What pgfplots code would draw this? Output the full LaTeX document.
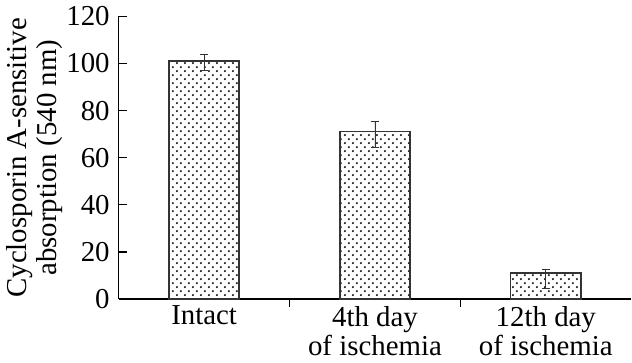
\documentclass[border=0pt]{standalone}
\usepackage{pgfplots}
\pgfplotsset{compat=1.18}
\usepackage{fontspec}
\setmainfont{Liberation Serif}
\usetikzlibrary{patterns}
\pgfdeclarepatternformonly{sparsedots}{\pgfqpoint{0pt}{0pt}}{\pgfqpoint{4.2pt}{4.2pt}}{\pgfqpoint{4.2pt}{4.2pt}}{%
  \pgfpathcircle{\pgfqpoint{1.05pt}{1.05pt}}{0.62pt}%
  \pgfpathcircle{\pgfqpoint{3.15pt}{3.15pt}}{0.62pt}%
  \pgfusepath{fill}%
}
\begin{document}
\begin{tikzpicture}[font=\fontsize{14.5}{15}\selectfont]
\begin{axis}[
  width=257.5pt, height=142pt, scale only axis,
  xmin=-0.5, xmax=2.5, ymin=0, ymax=120,
  ytick={0,20,...,120},
  axis x line*=bottom, axis y line*=left,
  axis line style={-, line width=0.75pt},
  xtick={0.5,1.5}, xticklabels={},
  extra x ticks={0,1,2},
  extra x tick labels={Intact,{4th day\\of ischemia},{12th day\\of ischemia}},
  extra x tick style={major tick length=0pt},
  xticklabel style={align=center},
  yticklabel style={xshift=-1pt},
  major tick length=4pt, tick align=inside,
  tick style={black, line width=0.6pt},
  ylabel={Cyclosporin A-sensitive\\absorption (540 nm)},
  ylabel style={align=center, yshift=-5pt},
  /pgf/number format/assume math mode=true,
  ybar, bar width=0.41,
]
\addplot[pattern=sparsedots, pattern color=black!90, draw=black!80, line width=0.7pt,
  error bars/.cd, y dir=both, y explicit,
  error bar style={line width=0.45pt, black!80},
  error mark options={rotate=90, mark size=2pt, line width=0.45pt, black!80}]
  coordinates {
    (0,101) += (0,3) -= (0,4)
    (1,71) += (0,4.5) -= (0,6.5)
    (2,11) += (0,1.4) -= (0,6.3)
  };
\end{axis}
\end{tikzpicture}
\end{document}
